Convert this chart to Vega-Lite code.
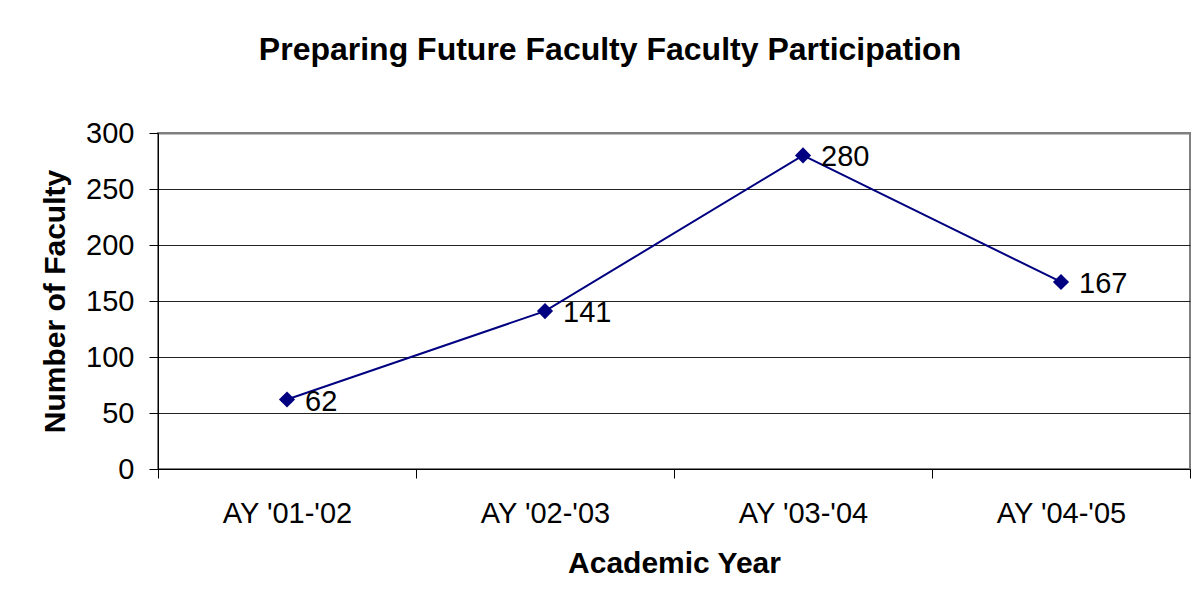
{
  "$schema": "https://vega.github.io/schema/vega-lite/v6.json",
  "autosize": "none",
  "width": 1032,
  "height": 336,
  "padding": {"left": 158, "top": 133, "right": 14, "bottom": 134},
  "background": "white",
  "config": {
    "font": "Liberation Sans",
    "view": {"stroke": "#808080", "strokeWidth": 2}
  },
  "title": {
    "text": "Preparing Future Faculty Faculty Participation",
    "fontSize": 32,
    "fontWeight": "bold",
    "font": "Liberation Sans",
    "color": "black",
    "anchor": "middle",
    "offset": 52,
    "dx": -64
  },
  "data": {
    "values": [
      {"year": "AY '01-'02", "faculty": 62},
      {"year": "AY '02-'03", "faculty": 141},
      {"year": "AY '03-'04", "faculty": 280},
      {"year": "AY '04-'05", "faculty": 167}
    ]
  },
  "encoding": {
    "x": {
      "field": "year",
      "type": "nominal",
      "sort": null,
      "scale": {"type": "band", "paddingInner": 0, "paddingOuter": 0},
      "axis": {
        "title": "Academic Year",
        "titleFontSize": 30,
        "titleFontWeight": "bold",
        "titleColor": "black",
        "titlePadding": 20,
        "labelAngle": 0,
        "labelFontSize": 29,
        "labelColor": "black",
        "labelPadding": 21,
        "tickBand": "extent",
        "tickSize": 9,
        "tickColor": "black",
        "domainColor": "black",
        "grid": false
      }
    },
    "y": {
      "field": "faculty",
      "type": "quantitative",
      "scale": {"domain": [0, 300], "nice": false},
      "axis": {
        "title": "Number of Faculty",
        "titleFontSize": 30,
        "titleFontWeight": "bold",
        "titleColor": "black",
        "titlePadding": 15,
        "values": [0, 50, 100, 150, 200, 250, 300],
        "labelFontSize": 29,
        "labelColor": "black",
        "labelPadding": 15,
        "tickSize": 9,
        "tickColor": "black",
        "domainColor": "black",
        "grid": true,
        "gridColor": {"condition": {"test": "datum.value == 300", "value": "#808080"}, "value": "#222222"},
        "gridWidth": {"condition": {"test": "datum.value == 300", "value": 2}, "value": 1},
        "gridOpacity": 1
      }
    }
  },
  "layer": [
    {
      "mark": {"type": "line", "color": "#000080", "strokeWidth": 2}
    },
    {
      "mark": {"type": "point", "shape": "diamond", "filled": true, "color": "#000080", "size": 260, "opacity": 1}
    },
    {
      "mark": {"type": "text", "align": "left", "baseline": "middle", "dx": 18, "dy": 2, "fontSize": 29, "color": "black"},
      "encoding": {"text": {"field": "faculty", "type": "quantitative"}}
    }
  ]
}
